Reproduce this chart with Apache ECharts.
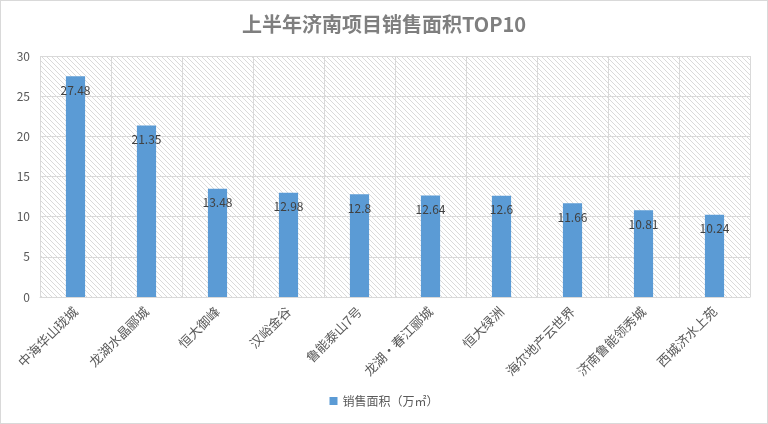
<!DOCTYPE html>
<html><head><meta charset="utf-8">
<script src="https://cdn.jsdelivr.net/npm/echarts@6/dist/echarts.min.js"></script>
<style>html,body{margin:0;padding:0;background:#fff}#c{width:768px;height:424px;box-sizing:border-box;border:1px solid #d9d9d9}</style>
</head><body><div id="c"></div>
<script>
const categories = ["中海华山珑城","龙湖水晶郦城","恒大御峰","汉峪金谷","鲁能泰山7号","龙湖‧春江郦城","恒大绿洲","海尔地产云世界","济南鲁能领秀城","西城济水上苑"];
const values = [27.48, 21.35, 13.48, 12.98, 12.8, 12.64, 12.6, 11.66, 10.81, 10.24];
const seriesName = "销售面积（万㎡）";
const titleText = "上半年济南项目销售面积TOP10";

const pc = document.createElement('canvas');
pc.width = 5; pc.height = 5;
const g = pc.getContext('2d');
g.fillStyle = '#ffffff'; g.fillRect(0,0,5,5);
g.strokeStyle = '#dadada'; g.lineWidth = 1;
g.beginPath(); g.moveTo(-1,-1); g.lineTo(6,6); g.stroke();
g.beginPath(); g.moveTo(-1,4); g.lineTo(1,6); g.stroke();
g.beginPath(); g.moveTo(4,-1); g.lineTo(6,1); g.stroke();

const chart = echarts.init(document.getElementById('c'));
chart.setOption({
  animation: false,
  title: { text: titleText, left: 'center', top: 8,
    textStyle: { fontSize: 20, fontWeight: 'bold', color: '#7f7f7f', fontFamily: 'Noto Sans CJK SC' } },
  grid: { left: 39, right: 17, top: 55, bottom: 126, show: true,
    backgroundColor: { image: pc, repeat: 'repeat' }, borderWidth: 0 },
  legend: { bottom: 11, left: 'center', itemWidth: 8, itemHeight: 8, icon: 'rect',
    textStyle: { fontSize: 12, color: '#595959', fontFamily: 'Noto Sans CJK SC' } },
  xAxis: { type: 'category', data: categories,
    axisLine: { lineStyle: { color: '#d9d9d9' } },
    axisTick: { show: false },
    splitLine: { show: true, lineStyle: { color: '#d9d9d9' } },
    axisLabel: { rotate: 45, interval: 0, fontSize: 13, color: '#595959', fontFamily: 'Noto Sans CJK SC', margin: 12 } },
  yAxis: { type: 'value', min: 0, max: 30, interval: 5,
    axisLine: { show: false }, axisTick: { show: false },
    splitLine: { lineStyle: { color: '#d9d9d9' } },
    axisLabel: { fontSize: 12, color: '#595959', margin: 10, fontFamily: 'Noto Sans CJK SC' } },
  series: [{ name: seriesName, type: 'bar', data: values, barWidth: '27%',
    itemStyle: { color: '#5b9bd5' },
    label: { show: true, position: 'insideTop', distance: 8, fontSize: 12, color: '#404040', fontFamily: 'Noto Sans CJK SC' } }]
});
</script></body></html>
